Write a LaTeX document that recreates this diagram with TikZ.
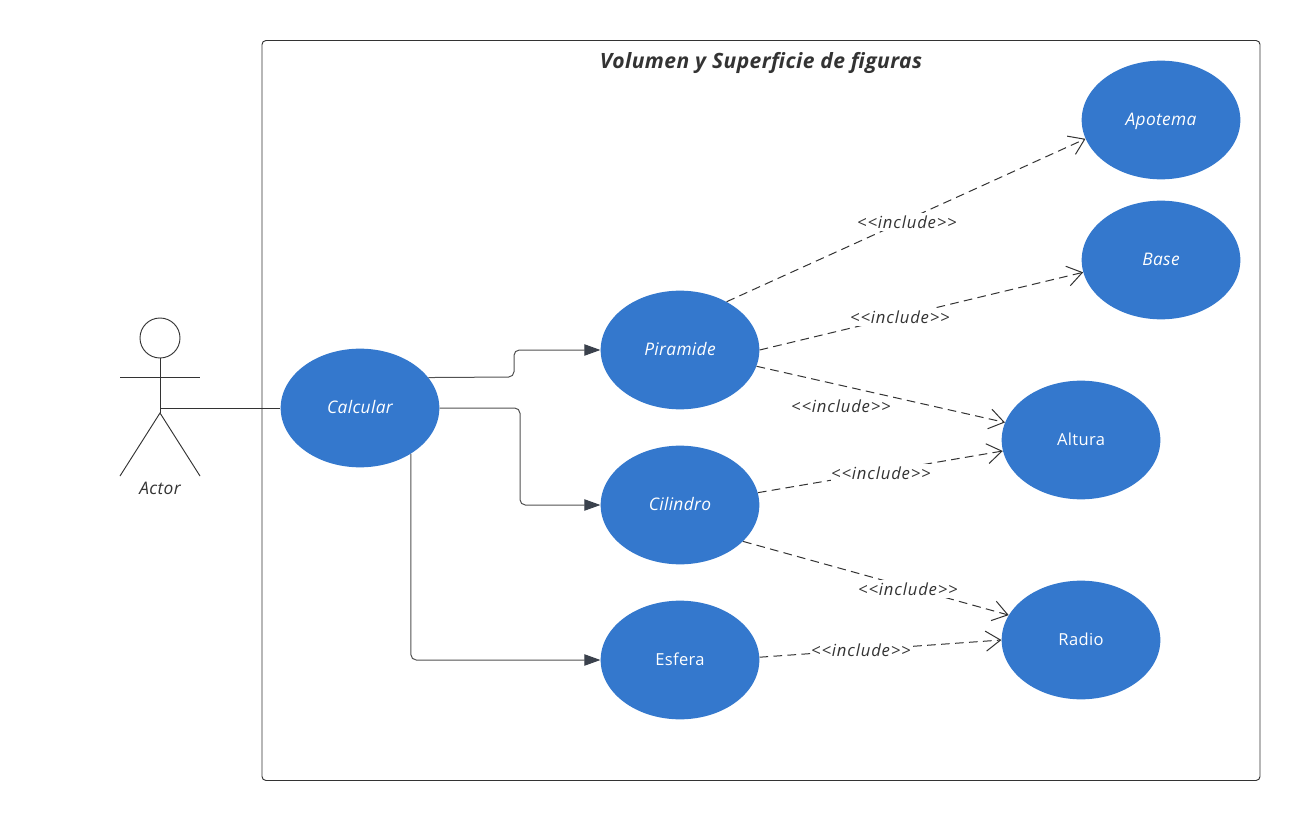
\documentclass[tikz,border=0pt]{standalone}
\usepackage{fontspec}
\setmainfont{Open Sans}[LetterSpace=2]
\newfontfamily\widefont{Open Sans}[LetterSpace=5]
\usetikzlibrary{arrows.meta,shapes.geometric}
\definecolor{usecase}{HTML}{3478CD}
\definecolor{ink}{HTML}{333333}
\definecolor{tipink}{HTML}{3A414C}
\newcommand{\uprighttext}{\fontsize{12.4}{15}\selectfont}
\tikzset{
  usecasebox/.style={ellipse,fill=usecase,draw=none,inner sep=0pt,minimum width=119pt,minimum height=89pt,text=white,text height=9.9pt,text depth=2pt,font=\fontsize{13}{15}\selectfont},
  flow/.style={draw=ink!85,line width=0.75pt,rounded corners=4pt,-{Triangle[length=12pt,width=8.5pt,fill=tipink,color=tipink]}},
  incl/.style={draw=ink,line width=0.75pt,dash pattern=on 6.5pt off 4pt,-{Straight Barb[length=11pt,width=15pt,line width=0.75pt,sep=0pt]}},
  incllabel/.style={fill=white,inner xsep=0.5pt,inner ysep=2pt,text=ink,font=\fontsize{12.5}{14}\selectfont\widefont\itshape},
  plain/.style={draw=ink,line width=0.7pt},
}
\begin{document}
\begin{tikzpicture}[x=0.75pt,y=-0.75pt]
\useasboundingbox[fill=white] (0,0) rectangle (1300,820);
\node[draw=ink,line width=0.7pt,rounded corners=3pt,minimum width=748.5pt,minimum height=555pt,inner sep=0pt] (system) at (761,410.5) {};
\node[text=ink,font=\fontsize{15.8}{18}\selectfont\bfseries\itshape] (title) at (761,63) {Volumen y Superficie de figuras};

\node[usecasebox] (calc) at (360,408) {\itshape Calcular};
\node[usecasebox] (pir) at (680,350) {\itshape Piramide};
\node[usecasebox] (cil) at (680,505) {\itshape Cilindro};
\node[usecasebox] (esf) at (680,660) {\uprighttext Esfera};
\node[usecasebox] (apo) at (1161,120) {\itshape Apotema};
\node[usecasebox] (base) at (1161,260) {\itshape Base};
\node[usecasebox] (alt) at (1081,440) {\uprighttext Altura};
\node[usecasebox] (rad) at (1081,640) {\uprighttext Radio};

% actor
\node[circle,draw=ink,line width=0.7pt,minimum size=30pt,inner sep=0pt] (head) at (160,338) {};
\coordinate (hip) at (160,413);
\coordinate (waist) at (160,408);
\coordinate (armL) at (120,377);
\coordinate (armR) at (200,377);
\coordinate (legL) at (120,476);
\coordinate (legR) at (200,476);
\draw[plain] (head.south) -- (hip);
\draw[plain] (armL) -- (armR);
\draw[plain] (legL) -- (hip) -- (legR);
\node[text=ink,font=\fontsize{13}{15}\selectfont\itshape] (actor) at (160,488) {Actor};
\draw[plain] (waist) -- (calc.west |- waist);

% flows
\coordinate (c1) at (514,377);
\coordinate (c2) at (514,350);
\draw[flow] (calc.24.5) -- (c1) -- (c2) -- (pir.west);
\coordinate (c3) at (520,408);
\coordinate (c4) at (520,505);
\draw[flow] (calc.east) -- (c3) -- (c4) -- (cil.west);
\coordinate (c5) at (calc.-42 |- esf.west);
\draw[flow] (calc.-42) -- (c5) -- (esf.west);

% includes
\draw[incl] (pir.46) -- (apo.194.9);
\draw[incl] (pir.east) -- (base.189.5);
\draw[incl] (pir.-12.6) -- (alt.167.7);
\draw[incl] (cil.9.5) -- (alt.188.6);
\draw[incl] (cil.-30.4) -- (rad.161.8);
\draw[incl] (esf.2.9) -- (rad.west);

\node[incllabel] (l1) at (907,222) {<{}<include>{}>};
\node[incllabel] (l2) at (900,317) {<{}<include>{}>};
\node[incllabel] (l3) at (841,406) {<{}<include>{}>};
\node[incllabel] (l4) at (881,473) {<{}<include>{}>};
\node[incllabel] (l5) at (908,589) {<{}<include>{}>};
\node[incllabel] (l6) at (861,650) {<{}<include>{}>};
\end{tikzpicture}
\end{document}
